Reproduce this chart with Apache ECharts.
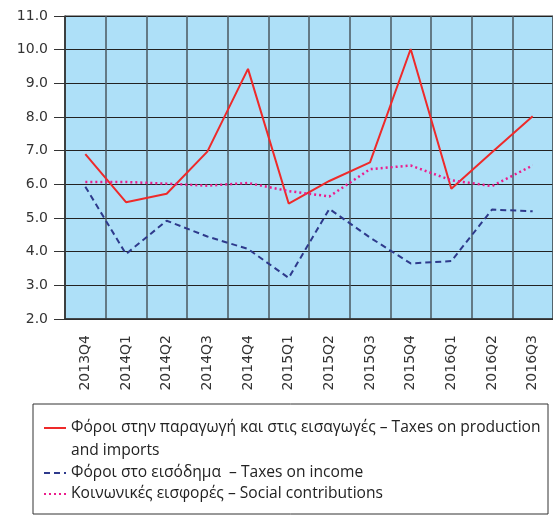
<!DOCTYPE html>
<html>
<head>
<meta charset="utf-8">
<script src="https://cdn.jsdelivr.net/npm/echarts@6/dist/echarts.min.js"></script>
<style>
  html, body { margin: 0; padding: 0; background: #fff; }
  #chart { width: 553px; height: 516px; }
</style>
</head>
<body>
<div id="chart"></div>
<script>
const quarters = ['2013Q4', '2014Q1', '2014Q2', '2014Q3', '2014Q4', '2015Q1',
  '2015Q2', '2015Q3', '2015Q4', '2016Q1', '2016Q2', '2016Q3']

const production = [6.9, 5.47, 5.72, 6.97, 9.43, 5.43, 6.1, 6.65, 10.02, 5.87, 6.95, 8.02]
const income = [5.93, 3.93, 4.92, 4.45, 4.08, 3.22, 5.27, 4.42, 3.65, 3.72, 5.25, 5.2]
const social = [6.07, 6.07, 6.02, 5.96, 6.04, 5.8, 5.64, 6.45, 6.56, 6.12, 5.95, 6.56]

const nameProduction = 'Φόροι στην παραγωγή και στις εισαγωγές – Taxes on production'
const nameProduction2 = 'and imports'
const nameIncome = 'Φόροι στο εισόδημα  – Taxes on income'
const nameSocial = 'Κοινωνικές εισφορές – Social contributions'

const chart = echarts.init(document.getElementById('chart'))

const axisFont = { fontFamily: 'DejaVu Sans', fontSize: 14, color: '#333' }
const legendFont = { fontFamily: 'Open Sans', fontSize: 15.6, color: '#222', lineHeight: 22 }

const legendBase = {
  orient: 'vertical',
  left: 43,
  itemWidth: 22,
  itemHeight: 10,
  padding: 0,
  textStyle: legendFont,
  itemStyle: { opacity: 0 },
  selectedMode: false,
}

const option = {
  animation: false,
  grid: {
    left: 65,
    top: 16,
    width: 490,
    height: 303,
    show: true,
    backgroundColor: '#aee0f8',
    borderColor: '#333',
    borderWidth: 1,
  },
  xAxis: {
    type: 'category',
    data: quarters,
    boundaryGap: true,
    axisLine: { lineStyle: { color: '#333', width: 1.5 } },
    axisTick: { show: false },
    axisLabel: { ...axisFont, rotate: 90, margin: 16, interval: 0 },
    splitLine: { show: true, interval: 0, lineStyle: { color: '#4a5860', width: 1.5 } },
  },
  yAxis: {
    type: 'value',
    min: 2,
    max: 11,
    interval: 1,
    axisLine: { show: true, lineStyle: { color: '#333', width: 1.5 } },
    axisTick: { show: true, length: 11, lineStyle: { color: '#333' } },
    axisLabel: { ...axisFont, margin: 17, formatter: (v) => v.toFixed(1) },
    splitLine: { lineStyle: { color: '#222', width: 1.2 } },
  },
  legend: [
    { ...legendBase, top: 417, data: [nameProduction] },
    { ...legendBase, top: 462, data: [nameIncome] },
    { ...legendBase, top: 483, data: [nameSocial] },
  ],
  graphic: [
    {
      type: 'rect',
      shape: { x: 33, y: 404, width: 515, height: 110 },
      style: { fill: 'none', stroke: '#333', lineWidth: 1 },
    },
    {
      type: 'text',
      x: 71,
      y: 451,
      style: {
        text: nameProduction2,
        font: '15.6px "Open Sans"',
        fill: '#222',
        verticalAlign: 'middle',
      },
    },
  ],
  series: [
    {
      name: nameProduction,
      type: 'line',
      data: production,
      symbol: 'none',
      lineStyle: { color: '#ee2a2a', width: 2 },
      itemStyle: { color: '#ee2a2a' },
    },
    {
      name: nameIncome,
      type: 'line',
      data: income,
      symbol: 'none',
      lineStyle: { color: '#2e3a8c', width: 2, type: [6, 4] },
      itemStyle: { color: '#2e3a8c' },
    },
    {
      name: nameSocial,
      type: 'line',
      data: social,
      symbol: 'none',
      lineStyle: { color: '#ec1c8c', width: 2.5, type: [2, 3] },
      itemStyle: { color: '#ec1c8c' },
    },
  ],
}

chart.setOption(option)
</script>
</body>
</html>
